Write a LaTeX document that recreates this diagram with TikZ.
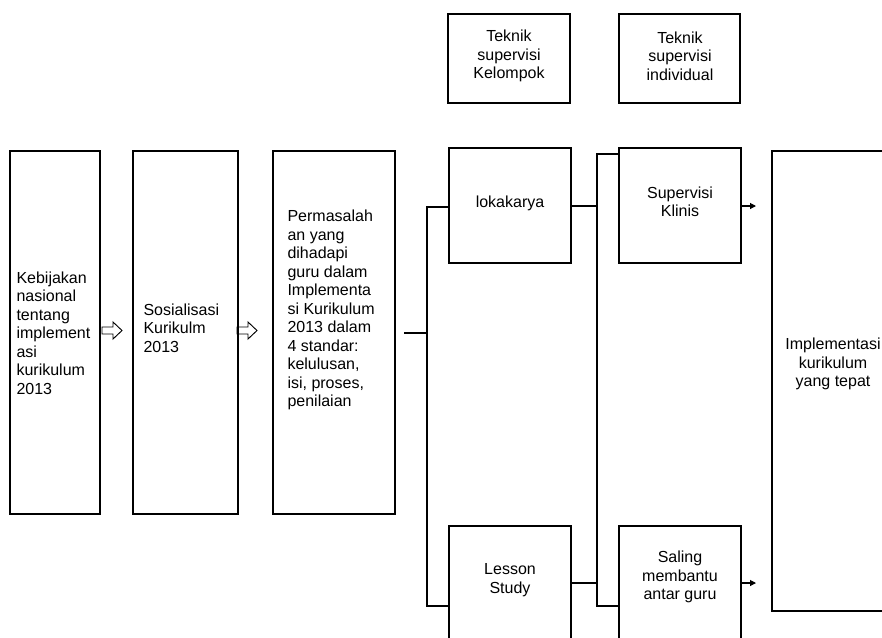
\documentclass[tikz,border=0pt]{standalone}
\usepackage{fontspec}
\setmainfont{Liberation Sans}
\usetikzlibrary{arrows.meta}
\begin{document}
\begin{tikzpicture}[x=0.75pt,y=-0.75pt,
  line width=0.8pt,
  box/.style={draw,line width=0.8pt,inner sep=0pt,outer sep=0pt},
  txt/.style={inner sep=0pt,font=\fontsize{12pt}{13.9pt}\selectfont},
  ltxt/.style={txt,align=left,anchor=west},
  ctxt/.style={txt,align=center},
  conn/.style={draw,line width=0.8pt},
  arr/.style={conn,-{Triangle[length=4.5pt,width=4.5pt]}},
  hollow/.pic={\draw[line width=0.7pt] (0,-3.5) -- (11,-3.5) -- (11,-8.5) -- (20,0) -- (11,8.5) -- (11,3.5) -- (0,3.5) -- cycle;}
]
\useasboundingbox (0,0) rectangle (882,637);
\clip (0,0) rectangle (882,637);

% boxes
\node[box,minimum width=67.5pt,minimum height=272.25pt] (b1) at (55,332.5) {};
\node[box,minimum width=78.75pt,minimum height=272.25pt] (b2) at (185.5,332.5) {};
\node[box,minimum width=91.5pt,minimum height=272.25pt] (b3) at (334,332.5) {};
\node[box,minimum width=91.5pt,minimum height=86.25pt] (lok) at (510,205.5) {};
\node[box,minimum width=91.5pt,minimum height=93pt] (les) at (510,588) {};
\node[box,minimum width=91.5pt,minimum height=86.25pt] (sk) at (680,205.5) {};
\node[box,minimum width=91.5pt,minimum height=93pt] (sal) at (680,588) {};
\node[box,minimum width=91.5pt,minimum height=345pt] (imp) at (833,381) {};
\node[box,minimum width=91.5pt,minimum height=66.75pt] (tk) at (509,58.5) {};
\node[box,minimum width=90.75pt,minimum height=66.75pt] (ti) at (679.5,58.5) {};

% texts
\node[ltxt] (t1) at (16,333) {Kebijakan\\nasional\\tentang\\implement\\asi\\kurikulum\\2013};
\node[ltxt] (t2) at (143,328) {Sosialisasi\\Kurikulm\\2013};
\node[ltxt] (t3) at (287,310) {Permasalah\\an yang\\dihadapi\\guru dalam\\Implementa\\si Kurikulum\\2013 dalam\\4 standar:\\kelulusan,\\isi, proses,\\penilaian};
\node[ctxt] (tlok) at (510,203) {lokakarya};
\node[ctxt] (tsk) at (680,202) {Supervisi\\Klinis};
\node[ctxt] (tles) at (510,580) {Lesson\\Study};
\node[ctxt] (tsal) at (680,577) {Saling\\membantu\\antar guru};
\node[ctxt] (timp) at (833,364) {Implementasi\\kurikulum\\yang tepat};
\node[ctxt] (ttk) at (509,56) {Teknik\\supervisi\\Kelompok};
\node[ctxt] (tti) at (680,56) {Teknik\\supervisi\\individual};

% hollow arrows
\pic at (102,330.5) {hollow};
\pic at (237,330.5) {hollow};

% connectors
\coordinate (s0) at (404,333);
\coordinate (j1) at (427,333);
\coordinate (j2) at (597,206);
\draw[conn] (s0) -- (j1);
\draw[conn] (lok.west |- 0,207) -| (j1) |- (les.west |- 0,606);
\draw[conn] (lok.east |- j2) -- (j2);
\draw[conn] (les.east |- 0,583) -- (j2 |- 0,583);
\draw[conn] (sk.west |- 0,154) -| (j2) |- (sal.west |- 0,606);
\draw[arr] (sk.east |- 0,206) -- (756,206);
\draw[arr] (sal.east |- 0,583) -- (756,583);
\end{tikzpicture}
\end{document}
